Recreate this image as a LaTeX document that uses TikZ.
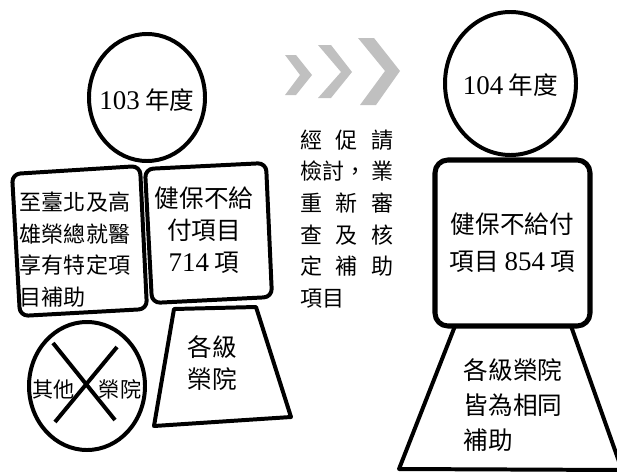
\documentclass[tikz,border=0pt]{standalone}
\usepackage{fontspec}
\setmainfont{Liberation Serif}
\newfontfamily\cjk{Noto Sans CJK TC}
\usepackage{tikz}
\usetikzlibrary{positioning}
\usetikzlibrary{shapes.geometric}
\usepackage{xcolor}
\definecolor{arrowgray}{RGB}{192,192,192}
\newcommand{\digits}[1]{{\rmfamily\fontsize{23}{27}\selectfont #1}}

\begin{document}
\begin{tikzpicture}[x=0.03cm, y=-0.03cm, line join=round]
\tikzstyle{outline} = [draw=black, line width=3.4pt]
\tikzstyle{yearnode} = [outline, ellipse, inner sep=0pt]
\tikzstyle{words} = [inner sep=0pt, font=\cjk\fontsize{21}{27}\selectfont]
\tikzstyle{smallwords} = [inner sep=0pt, font=\cjk\fontsize{18.8}{27}\selectfont]

\useasboundingbox (0,0) rectangle (617,472);

% 103 side
\node[yearnode, minimum width=3.48cm, minimum height=3.81cm] (y103) at (147,97.5) {};
\node[words] (y103text) at ([yshift=-2]y103.center) {\digits{103} 年度};

\draw[outline, rounded corners=7pt] (12,174) -- (140,166) -- (147,309) -- (20,316) -- cycle;
\draw[outline, rounded corners=7pt] (145,169) -- (266,163) -- (272,297) -- (152,303) -- cycle;
\draw[outline] (174,309) -- (256,307) -- (291,417) -- (154,426) -- cycle;

\node[smallwords, align=left] (special) at (75,249.5) {至臺北及高\\雄榮總就醫\\享有特定項\\目補助};
\node[words, align=center] (nhi103) at (204,230) {健保不給\\付項目\\\digits{714} 項};
\node[words, align=center, font=\cjk\fontsize{21}{28}\selectfont] (levels103) at (212,363) {各級\\榮院};

\node[yearnode, minimum width=3.48cm, minimum height=3.84cm] (others) at (87,386) {};
\node[inner sep=0pt, font=\cjk\fontsize{18}{24}\selectfont] (otherstext) at ([yshift=-3]others.center) {其他\hspace{0.72cm}榮院};
\draw[outline] ([shift={(-34,-43)}]others.center) -- ([shift={(28,34)}]others.center);
\draw[outline] ([shift={(30,-39)}]others.center) -- ([shift={(-32,36)}]others.center);

% arrows in between
\fill[arrowgray] (285,55) -- (296,55) -- (312,75) -- (296,95) -- (285,95) -- (300,75) -- cycle;
\fill[arrowgray] (318,45) -- (331,45) -- (352,72) -- (331,98) -- (318,98) -- (341,72) -- cycle;
\fill[arrowgray] (358,38) -- (374,38) -- (400,71) -- (376,105) -- (360,105) -- (385,71) -- cycle;

\node[smallwords, align=left, text width=2.82cm] (review) at (347,219)
  {經\hfill 促\hfill 請\\檢討，\hfill 業\\重\hfill 新\hfill 審\\查\hfill 及\hfill 核\\定\hfill 補\hfill 助\\項目};

% 104 side
\node[yearnode, minimum width=3.93cm, minimum height=4.29cm] (y104) at (510.5,83.5) {};
\node[words] (y104text) at ([yshift=-1]y104.center) {\digits{104} 年度};

\node[draw=black, line width=4.3pt, rounded corners=11pt, minimum width=4.65cm, minimum height=4.98cm, inner sep=0pt,
      font=\cjk\fontsize{21}{31.6}\selectfont, align=center] (nhi104) at (512.5,243) {健保不給付\\項目 \digits{854} 項};

\draw[outline] (455,326) -- (571,326) -- (622,470) -- (399,469) -- cycle;
\node[words, align=left, font=\cjk\fontsize{21}{30}\selectfont] (levels104) at (513,405) {各級榮院\\皆為相同\\補助};

\end{tikzpicture}
\end{document}
